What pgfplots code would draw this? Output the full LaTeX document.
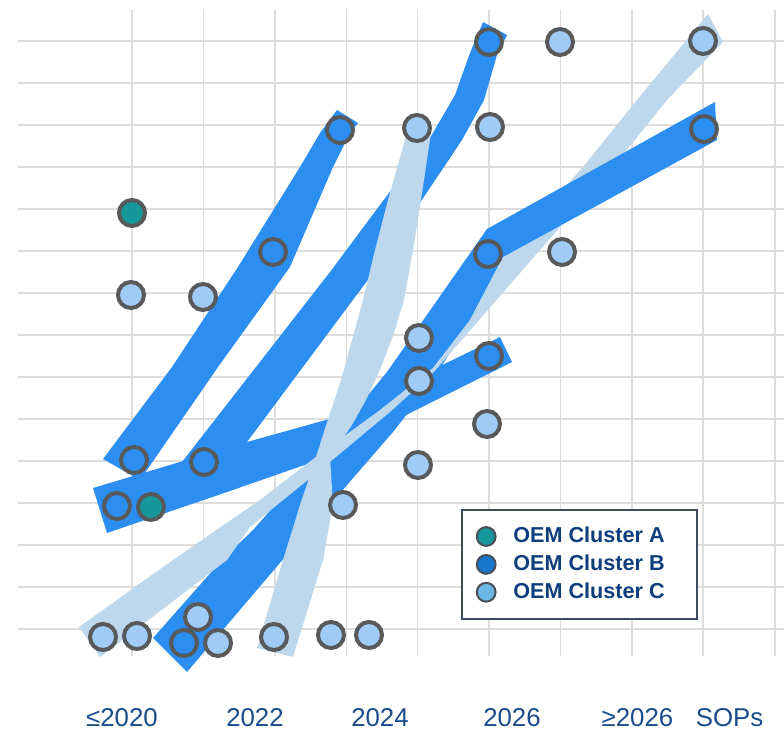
\documentclass[border=0pt]{standalone}
\usepackage{fontspec}
\setmainfont{Liberation Sans}
\usepackage{pgfplots}
\pgfplotsset{compat=1.18}
\definecolor{bandblue}{HTML}{2B8EF0}
\definecolor{lightband}{HTML}{BDD7EC}
\definecolor{ptA}{HTML}{15979B}
\definecolor{ptB}{HTML}{2B8EF0}
\definecolor{ptC}{HTML}{9FCBF6}
\definecolor{ptedge}{HTML}{58595B}
\definecolor{legA}{HTML}{16979B}
\definecolor{legB}{HTML}{1677CC}
\definecolor{legC}{HTML}{6CB6E4}
\definecolor{legedge}{HTML}{4A4F57}
\definecolor{legborder}{HTML}{3D4B5C}
\definecolor{legtext}{HTML}{0E3F7C}
\definecolor{ticktext}{HTML}{194C8A}
\definecolor{gridgray}{HTML}{DDDDDD}
\begin{document}
\begin{tikzpicture}
\begin{axis}[
  scale only axis, width=383pt, height=323pt,
  xmin=18, xmax=784, ymin=10, ymax=656, y dir=reverse,
  clip=false,
  axis line style={draw=none},
  xtick={132,203.4,275,346.5,417.5,489,560.5,632,703,775},
  ytick={41,83,125,167,209,251,293,335,377,419,461,503,545,587,629},
  xticklabels={}, yticklabels={},
  grid=major, major grid style={color=gridgray, line width=0.8pt},
  major tick length=0pt,
  extra x ticks={122,255,380,512,637.5,729.5},
  extra x tick labels={≤2020,2022,2024,2026,≥2026,SOPs},
  extra x tick style={grid=none, major tick length=0pt,
    xticklabel style={anchor=base, yshift=-35.5pt, font=\fontsize{12.9}{15}\selectfont, text=ticktext}},
  legend style={at={(axis cs:461,509)}, anchor=north west, draw=legborder, line width=1pt,
    fill=white, inner xsep=6.9pt, inner ysep=7.6pt, row sep=2.6pt, column sep=6.4pt,
    font=\bfseries\fontsize{10.8}{12}\selectfont, text=legtext,
    nodes={inner xsep=2pt, inner ysep=1pt}, cells={anchor=west}},
]
\coordinate (bbsw) at (axis cs:0,733);
\coordinate (bbne) at (axis cs:784,0);
% blue bands
\addplot[fill=bandblue, draw=none, forget plot] coordinates {(103,459) (172,367) (238,267) (300,167) (320,133) (337,110) (358,123) (350,133) (333,167) (290,267) (218,367) (140,480)} --cycle;
\addplot[fill=bandblue, draw=none, forget plot] coordinates {(182,462) (330,272) (430,138) (455,95) (470,53) (483,22) (507,35) (497,55) (484,100) (462,140) (373,273) (247,442) (247,452) (185,470)} --cycle;
\addplot[fill=bandblue, draw=none, forget plot] coordinates {(93,488) (247,442) (333,418) (500,337) (512,362) (440,398) (313,462) (230,491) (107,533)} --cycle;
\addplot[fill=bandblue, draw=none, forget plot] coordinates {(153,638) (222,560) (253,530) (313,462) (387,372) (487,229) (503,257) (470,320) (430,385) (393,432) (308,530) (187,672)} --cycle;
% light bands
\addplot[fill=lightband, draw=none, forget plot] coordinates {(79,627) (170,562) (260,500) (317,456) (380,410) (433,368) (470,320) (503,257) (540,215) (583,167) (637,100) (708,14) (723,42) (667,100) (613,167) (560,227) (433,373) (390,412) (330,462) (250,527) (227,560) (100,657)} --cycle;
\addplot[fill=lightband, draw=none, forget plot] coordinates {(257,648) (283,560) (300,505) (316,457) (330,413) (341,380) (352,340) (363,300) (375,250) (388,200) (405,140) (408,128) (430,128) (430,140) (421,200) (413,250) (404,300) (394,333) (380,370) (366,400) (352,425) (330,457) (333,505) (323,560) (293,657)} --cycle;
% upper segment of blue band 3 (on top)
\addplot[fill=bandblue, draw=none, forget plot] coordinates {(478,250) (487,229) (715,102) (717,140) (503,257) (488,265)} --cycle;
% points
\addplot[only marks, mark=*, mark size=6.5pt, mark options={fill=ptC, draw=ptedge, line width=2pt}, forget plot] coordinates {
(131,295) (203,297) (417,128) (490,127) (560,42) (703,41) (562,252) (419,338) (419,381) (487,424) (418,465) (343,505) (103,637) (137,636) (198,617) (218,643) (274,637) (331,635) (369,635)};
\addplot[only marks, mark=*, mark size=6.5pt, mark options={fill=ptB, draw=ptedge, line width=2pt}, forget plot] coordinates {
(340,130) (273,252) (489,42) (488,254) (489,356) (704,129) (134,460) (204,462) (117,506) (184,643)};
\addplot[only marks, mark=*, mark size=6.5pt, mark options={fill=ptA, draw=ptedge, line width=2pt}, forget plot] coordinates {
(132,213) (151,507)};
% legend
\addlegendimage{legend image code/.code={\draw[fill=legA, draw=legedge, line width=1pt] (0pt,0pt) circle (4.7pt);}}
\addlegendentry{\makebox[83pt][l]{OEM Cluster A}}
\addlegendimage{legend image code/.code={\draw[fill=legB, draw=legedge, line width=1pt] (0pt,0pt) circle (4.7pt);}}
\addlegendentry{\makebox[83pt][l]{OEM Cluster B}}
\addlegendimage{legend image code/.code={\draw[fill=legC, draw=legedge, line width=1pt] (0pt,0pt) circle (4.7pt);}}
\addlegendentry{\makebox[83pt][l]{OEM Cluster C}}
\end{axis}
\pgfresetboundingbox
\useasboundingbox (bbsw) rectangle (bbne);
\end{tikzpicture}
\end{document}
